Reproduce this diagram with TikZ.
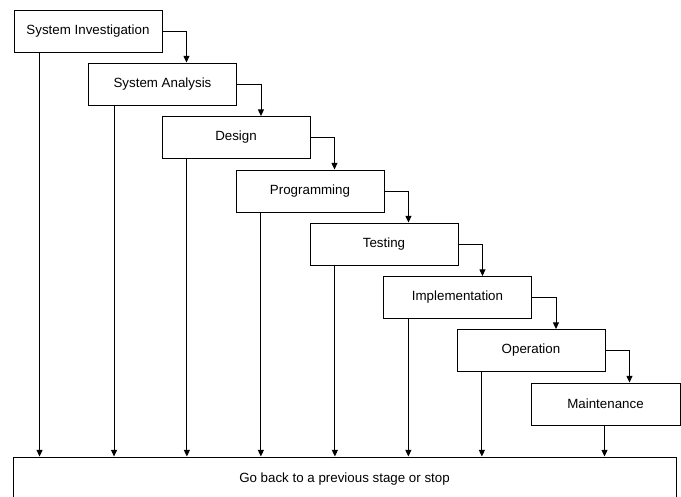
\documentclass[tikz,border=0pt]{standalone}
\usepackage{fontspec}
\setmainfont{Liberation Sans}
\usetikzlibrary{arrows.meta}
\tikzset{
	stage/.style={draw, line width=0.7pt, minimum width=111pt, minimum height=31.5pt, inner sep=0pt, font=\fontsize{10}{12}\selectfont},
	flow/.style={-{Triangle[length=5pt,width=4.5pt]}, line width=0.7pt}
}
\begin{document}
\begin{tikzpicture}[x=0.75pt,y=-0.75pt]
		\useasboundingbox (0,0) rectangle (681,496);
		\node[stage] (inv) at (88,31) {System Investigation};
		\node[stage] (ana) at (162.5,84) {System Analysis};
		\node[stage] (des) at (236,137.5) {Design};
		\node[stage] (prog) at (310,191) {Programming};
		\node[stage] (test) at (384,244) {Testing};
		\node[stage] (impl) at (457.5,297.5) {Implementation};
		\node[stage] (oper) at (531,350.5) {Operation};
		\node[stage, minimum width=111.75pt] (maint) at (605.5,404) {Maintenance};
		\node[stage, minimum width=497.25pt, minimum height=33.75pt] (back) at (344.5,479.5) {Go back to a previous stage or stop};
		% stage to next stage
		\draw[flow] (inv.east) -| ([xshift=18pt]inv.east |- ana.north);
		\draw[flow] (ana.east) -| ([xshift=18pt]ana.east |- des.north);
		\draw[flow] (des.east) -| ([xshift=18pt]des.east |- prog.north);
		\draw[flow] (prog.east) -| ([xshift=18pt]prog.east |- test.north);
		\draw[flow] (test.east) -| ([xshift=18pt]test.east |- impl.north);
		\draw[flow] (impl.east) -| ([xshift=18pt]impl.east |- oper.north);
		\draw[flow] (oper.east) -| ([xshift=18pt]oper.east |- maint.north);
		% every stage back down
		\draw[flow] ([xshift=19.5pt]inv.south west) -- ([xshift=19.5pt]inv.south west |- back.north);
		\draw[flow] ([xshift=19.5pt]ana.south west) -- ([xshift=19.5pt]ana.south west |- back.north);
		\draw[flow] ([xshift=19pt]des.south west) -- ([xshift=19pt]des.south west |- back.north);
		\draw[flow] ([xshift=19pt]prog.south west) -- ([xshift=19pt]prog.south west |- back.north);
		\draw[flow] ([xshift=19pt]test.south west) -- ([xshift=19pt]test.south west |- back.north);
		\draw[flow] ([xshift=19pt]impl.south west) -- ([xshift=19pt]impl.south west |- back.north);
		\draw[flow] ([xshift=19pt]oper.south west) -- ([xshift=19pt]oper.south west |- back.north);
		\draw[flow] ([xshift=-0.75pt]maint.south) -- ([xshift=-0.75pt]maint.south |- back.north);
	\end{tikzpicture}
\end{document}
